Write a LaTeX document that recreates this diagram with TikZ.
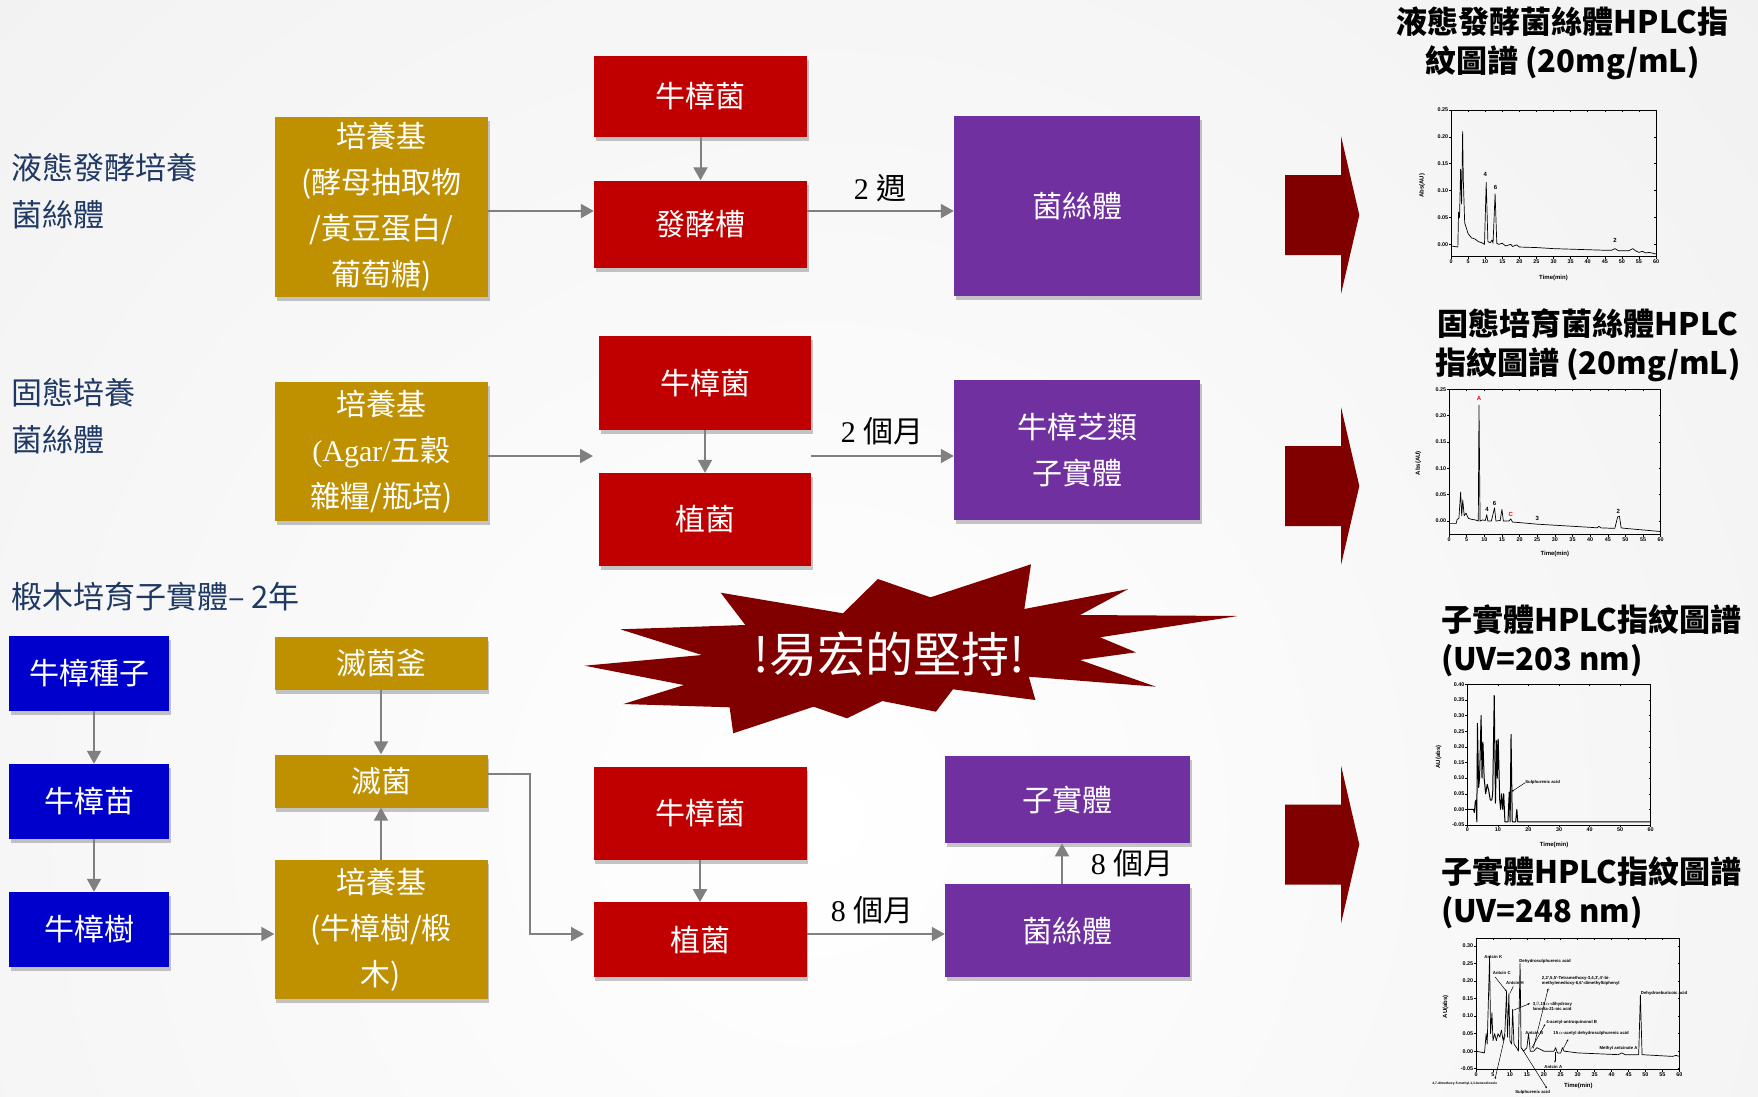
\documentclass[tikz,border=0pt]{standalone}
\usepackage{fontspec}
\setmainfont{Liberation Serif}
\newfontfamily\cjk{Noto Sans CJK TC}
\newfontfamily\arl{Liberation Sans}
\usetikzlibrary{arrows.meta,shadows,calc}
\definecolor{goldc}{HTML}{BF9000}
\definecolor{redc}{HTML}{C00000}
\definecolor{purc}{HTML}{7030A0}
\definecolor{bluec}{HTML}{0000CC}
\definecolor{navyc}{HTML}{1F3864}
\definecolor{burstc}{HTML}{800000}
\definecolor{arrc}{HTML}{808080}
\tikzset{
  box/.style={draw=none, inner sep=0pt, text=white, align=center,
    font={\cjk\fontsize{30}{46}\selectfont},
    drop shadow={shadow xshift=1.5pt, shadow yshift=-4pt, fill=black!50, opacity=0.45}},
  goldbox/.style={box, fill=goldc},
  redbox/.style={box, fill=redc},
  purbox/.style={box, fill=purc},
  bluebox/.style={box, fill=bluec},
  sz/.style 2 args={minimum width=#1pt, minimum height=#2pt},
  arr/.style={draw=arrc, line width=2pt, -{Triangle[length=13pt,width=14pt]}},
  lab/.style={font={\fontsize{30}{36}\selectfont}, inner sep=0pt, text=black},
  lbl/.style={font={\cjk\fontsize{31}{47}\selectfont}, inner sep=0pt, text=navyc, align=left, anchor=west},
  ttl/.style={font={\cjk\bfseries\fontsize{31}{39}\selectfont}, inner sep=0pt, text=black},
  frm/.style={line width=0.5pt, black},
  crv/.style={line width=0.7pt, black, line join=round},
  tk/.style={font={\arl\bfseries\fontsize{5.4}{6}\selectfont}, inner sep=0pt},
  axl/.style={font={\arl\bfseries\fontsize{6}{7}\selectfont}, inner sep=0pt},
  pk/.style={font={\arl\bfseries\fontsize{6}{7}\selectfont}, inner sep=0pt},
  cl/.style={font={\arl\bfseries\fontsize{4.3}{4.8}\selectfont}, inner sep=0pt, align=left},
  ann/.style={line width=0.5pt, black, -{Stealth[length=2.2pt,width=1.8pt]}},
}
\newcommand\mkaxes[4]{%
  \draw[frm] (0,#1) rectangle (60,#2);
  \foreach \v/\yl in {#3} {\draw[frm] (0,\v) -- ++(-2.2pt,0pt); \draw[frm] (60,\v) -- ++(-1.8pt,0pt);
    \node[tk,anchor=east,xshift=-2.8pt] at (0,\v) {\yl};}
  \foreach \t in {#4} {\draw[frm] (\t,#1) -- ++(0pt,-2.2pt); \draw[frm] (\t,#2) -- ++(0pt,-1.8pt);
    \node[tk,anchor=north,yshift=-2.8pt] at (\t,#1) {\t};}
}
\begin{document}
\begin{tikzpicture}[x=1pt,y=-1pt]
\useasboundingbox (0,0) rectangle (1758,1096);
\fill[gray!13] (0,0) rectangle (1758,1096);
\begin{scope}
\clip (0,0) rectangle (1758,1096);
\shade[inner color=white,outer color=gray!13] (820,820) circle (1500);
\end{scope}

% ---------- left labels ----------
\node[lbl] (L1) at (11,191.5) {液態發酵培養\\菌絲體};
\node[lbl] (L2) at (11,416.5) {固態培養\\菌絲體};
\node[lbl] (L3) at (11,597) {椴木培育子實體– 2年};

% ---------- row 1 ----------
\node[goldbox, sz={213}{180}] (p1) at (381.5,207) {培養基\\(酵母抽取物\\/黃豆蛋白/\\葡萄糖)};
\node[redbox, sz={213}{81}] (b1) at (700.5,96) {牛樟菌};
\node[redbox, sz={213}{87}] (f1) at (700.5,224) {發酵槽};
\node[purbox, sz={246}{180}] (m1) at (1077,206) {菌絲體};
\coordinate (r1) at (0,211);
\draw[arr] (b1) -- (f1);
\draw[arr] (p1.east |- r1) -- (f1.west |- r1);
\draw[arr] (f1.east |- r1) -- (m1.west |- r1);
\node[lab] (w1) at (880,188) {2 {\cjk 週}};

% ---------- row 2 ----------
\node[goldbox, sz={213}{139}] (p2) at (381.5,451.5) {培養基\\{\rmfamily (Agar/}五穀\\雜糧/瓶培)};
\node[redbox, sz={212}{94.5}] (b2) at (705,382.75) {牛樟菌};
\node[redbox, sz={212}{93}] (z2) at (705,519.5) {植菌};
\node[purbox, sz={246}{140}] (s2) at (1077,450) {牛樟芝類\\子實體};
\coordinate (r2) at (0,456);
\coordinate (e2) at (593,456);
\draw[arr] (b2) -- (z2);
\draw[arr] (p2.east |- r2) -- (e2);
\draw[arr] (b2.east |- r2) -- (s2.west |- r2);
\node[lab] (w2) at (882,431) {2 {\cjk 個月}};

% ---------- row 3 ----------
\node[bluebox, sz={160}{75}] (n1) at (89,673.5) {牛樟種子};
\node[bluebox, sz={160}{75}] (n2) at (89,801.5) {牛樟苗};
\node[bluebox, sz={160}{75}] (n3) at (89,929.5) {牛樟樹};
\node[goldbox, sz={213}{53}] (g1) at (381,663.5) {滅菌釜};
\node[goldbox, sz={213}{53}] (g2) at (381,781) {滅菌};
\node[goldbox, sz={213}{139}] (g3) at (381,929.5) {培養基\\(牛樟樹/椴\\木)};
\node[redbox, sz={213}{93}] (b3) at (700,813.3) {牛樟菌};
\node[redbox, sz={213}{75}] (z3) at (700,939.8) {植菌};
\node[purbox, sz={245}{93}] (m3) at (1067.5,930.7) {菌絲體};
\node[purbox, sz={245}{87}] (k3) at (1067.5,799.7) {子實體};
\coordinate (cx) at (94,0);
\coordinate (r3) at (0,934);
\coordinate (r3a) at (0,774);
\coordinate (ex) at (530,0);
\coordinate (e3) at (584,934);
\coordinate (ky) at (1062,0);
\draw[arr] (n1.south -| cx) -- (n2.north -| cx);
\draw[arr] (n2.south -| cx) -- (n3.north -| cx);
\draw[arr] (n3.east |- r3) -- (g3.west |- r3);
\draw[arr] (g1) -- (g2);
\draw[arr] (g3) -- (g2);
\draw[arr] (g2.east |- r3a) -- (ex |- r3a) -- (ex |- r3) -- (e3);
\draw[arr] (b3) -- (z3);
\draw[arr] (z3.east |- r3) -- (m3.west |- r3);
\draw[arr] (m3.north -| ky) -- (k3.south -| ky);
\node[lab] (w3) at (872,910) {8 {\cjk 個月}};
\node[lab] (w4) at (1132,863.5) {8 {\cjk 個月}};

% ---------- starburst ----------
\fill[burstc] (720.7,592.7) -- (745.3,625) -- (620.3,629.3) -- (702,655) -- (584.6,665.7)
  -- (684,685) -- (623.4,704) -- (729.6,707.3) -- (733.2,733.3) -- (813.6,706.7)
  -- (847,718.3) -- (882.3,701) -- (935.9,711.7) -- (952.9,689.3) -- (1035.4,700)
  -- (1028.8,676.7) -- (1156,686.7) -- (1080,660) -- (1135.9,652.3) -- (1100,637.3)
  -- (1237.7,616) -- (1080,615) -- (1128.3,589) -- (1024.3,609) -- (1031,564.3)
  -- (930.5,597.3) -- (877.9,579) -- (843,613.3) -- cycle;
\node[font={\cjk\fontsize{48}{50}\selectfont}, text=white, inner sep=0pt] (slogan) at (889,654) {!易宏的堅持!};

% ---------- big arrows ----------
\foreach \c in {215,486,844.5} {
  \fill[burstc] (1285,\c-40) -- (1341,\c-40) -- (1341,\c-79) -- (1359.3,\c) -- (1341,\c+79)
    -- (1341,\c+40) -- (1285,\c+40) -- cycle;
}

% ---------- titles ----------
\node[ttl, align=center] (t1) at (1562.5,43) {液態發酵菌絲體HPLC指\\紋圖譜 (20mg/mL)};
\node[ttl, align=center] (t2) at (1588,345.5) {固態培育菌絲體HPLC\\指紋圖譜 (20mg/mL)};
\node[ttl, align=left, anchor=west] (t3) at (1441,641) {子實體HPLC指紋圖譜\\(UV=203 nm)};
\node[ttl, align=left, anchor=west] (t4) at (1441,892.5) {子實體HPLC指紋圖譜\\(UV=248 nm)};

% ---------- chart 1 ----------
\begin{scope}[shift={(1451,244.33)},x=3.4167pt,y=537.3pt]
\mkaxes{-0.023}{0.25}{0/0.00,0.05/0.05,0.1/0.10,0.15/0.15,0.2/0.20,0.25/0.25}{0,5,...,60}
\draw[crv] plot coordinates {(0,-0.003) (1,-0.004) (2,-0.005) (2.2,0.06) (2.5,0.05) (2.8,0.14) (3.1,0.075) (3.4,0.21) (3.6,0.12) (4,0.04) (5,0.02) (6,0.012) (7,0.01) (8,0.005) (9,0.003) (9.8,0.0) (10.3,0.115) (10.8,0.005) (11.5,0.003) (12,0.008) (12.3,0.002) (12.9,0.094) (13.4,0.002) (14,0.0) (15,0.002) (16,-0.003) (17.5,0.0) (18,-0.004) (19.2,-0.001) (20,-0.005) (25,-0.006) (30,-0.008) (35,-0.009) (40,-0.01) (45,-0.011) (47,-0.011) (48,-0.008) (49,-0.012) (52,-0.012) (53.2,-0.008) (54,-0.012) (55,-0.015) (56,-0.013) (57,-0.016) (58,-0.015) (60,-0.018)};
\node[pk] at (10,0.13) {4};
\node[pk] at (13,0.105) {6};
\node[pk] at (48,0.008) {2};
\node[axl,rotate=90] at (-8.5,0.109) {Abs(AU)};
\node[axl] at (30,-0.062) {Time(min)};
\end{scope}

% ---------- chart 2 ----------
\begin{scope}[shift={(1449,521)},x=3.528pt,y=526.7pt]
\mkaxes{-0.0253}{0.25}{0/0.00,0.05/0.05,0.1/0.10,0.15/0.15,0.2/0.20,0.25/0.25}{0,5,...,60}
\draw[crv] plot coordinates {(0,-0.005) (2,-0.005) (2.3,0.003) (2.8,0.005) (3.3,0.055) (3.6,0.01) (3.9,0.04) (4.3,0.01) (4.8,0.015) (5.5,0.005) (6.5,0.003) (7.5,0.002) (8.3,0.0) (8.5,0.22) (8.8,0.0) (9.5,0.002) (10.3,0.001) (10.7,0.012) (11,0.0) (12,0.0) (12.9,0.025) (13.3,0.0) (14.5,0.001) (15,0.022) (15.4,0.0) (17,0.0) (17.5,0.004) (18,-0.002) (20,-0.003) (25,-0.006) (30,-0.008) (35,-0.01) (40,-0.012) (42,-0.013) (42.5,-0.01) (43,-0.013) (47,-0.014) (47.8,0.008) (48.3,0.009) (48.8,-0.013) (50,-0.014) (55,-0.017) (60,-0.02)};
\node[pk,text=red] at (8.5,0.232) {A};
\node[pk] at (10.8,0.022) {4};
\node[pk] at (12.9,0.034) {6};
\node[pk,text=red] at (17.5,0.012) {C};
\node[pk] at (25,0.004) {3};
\node[pk] at (48,0.018) {2};
\node[axl,rotate=90] at (-8.7,0.11) {Abs(AU)};
\node[axl] at (30,-0.062) {Time(min)};
\end{scope}

% ---------- chart 3 ----------
\begin{scope}[shift={(1467.33,809.37)},x=3.0556pt,y=312.6pt]
\mkaxes{-0.05}{0.40}{-0.05/-0.05,0/0.00,0.05/0.05,0.1/0.10,0.15/0.15,0.2/0.20,0.25/0.25,0.3/0.30,0.35/0.35,0.4/0.40}{0,10,...,60}
\draw[crv,line width=1pt] plot coordinates {(0,0) (2,0) (2.3,-0.01) (2.6,0.025) (2.9,0.03) (3.1,-0.04) (3.3,0.275) (3.7,0.07) (4,0.1) (4.5,0.3) (4.8,0.1) (5.1,0.215) (5.5,0.1) (6,0.05) (6.5,0.08) (7,0.06) (7.5,0.03) (8,0.03) (8.3,0.05) (8.8,0.365) (9.2,0.02) (9.6,0.22) (9.8,0.1) (10.1,0.225) (10.6,0.03) (10.9,0.0) (11.2,0.05) (11.6,0.0) (11.9,0.05) (12.3,-0.04) (13.3,-0.04) (13.7,0.055) (14,-0.04) (14.3,0.24) (14.7,-0.04) (15.8,-0.04) (16.2,0.0) (16.5,-0.04) (60,-0.04)};
\node[cl,anchor=west] (sa3) at (18.9,0.085) {Sulphurenic acid};
\draw[ann] (sa3.west) -- (14.5,0.057);
\node[axl,rotate=90] at (-9.4,0.168) {AU(abs)};
\node[axl] at (28.4,-0.114) {Time(min)};
\end{scope}

% ---------- chart 4 ----------
\begin{scope}[shift={(1476,1051.14)},x=3.389pt,y=350.5pt]
\mkaxes{-0.052}{0.3214}{-0.05/-0.05,0/0.00,0.05/0.05,0.1/0.10,0.15/0.15,0.2/0.20,0.25/0.25,0.3/0.30}{0,5,...,60}
\draw[crv] plot coordinates {(0,0) (2.5,-0.005) (3,0.05) (3.3,0.02) (4,0.27) (4.3,0.05) (4.7,0.11) (5,0.03) (5.5,0.05) (6,0.03) (6.5,0.05) (7,0.04) (7.5,0.06) (8,0.03) (8.5,0.05) (9,0.17) (9.3,0.04) (9.7,0.165) (10,0.03) (10.5,0.02) (10.8,0.12) (11.2,0.02) (12,0.01) (12.5,0.0) (13,0.25) (13.3,0.01) (14,0.0) (15,0.01) (15.5,0.05) (16,0.0) (17,0.0) (18,0.01) (20,0.0) (23,0.0) (23.5,0.01) (24,-0.005) (25,-0.005) (25.5,0.01) (26,0.0) (30,-0.005) (42,-0.01) (43,-0.005) (44,-0.01) (48,-0.01) (48.5,0.16) (49,-0.01) (58,-0.015) (59,-0.012) (60,-0.015)};
\node[cl] at (5.1,0.268) {Antcin K};
\node[cl] at (7.6,0.224) {Antcin C};
\draw[ann] (5.6,0.212) -- (9.05,0.17);
\node[cl] at (11.5,0.194) {Antcin H};
\draw[line width=0.5pt] (11,0.185) -- (10,0.165);
\node[cl,anchor=west] at (12.7,0.257) {Dehydrosulphurenic acid};
\node[cl,anchor=west] at (19.4,0.201) {2,2',5,5'-Tetramethoxy-3,4,3',4'-bi-\\methylenedioxy-6,6'-dimethylbiphenyl};
\draw[ann] (16.9,0.008) -- (21.3,0.179);
\node[cl,anchor=west] at (16.7,0.128) {3$\beta$,15$\alpha$-dihydroxy\\lanosta-21-oic acid};
\draw[ann] (11.1,0.117) -- (15.9,0.136);
\node[cl,anchor=west] at (20.7,0.082) {4-acetyl-antroquinonol B};
\draw[ann] (16.4,0.008) -- (20.4,0.077);
\node[cl] at (17.2,0.051) {Antcin B};
\node[cl,anchor=west] at (22.8,0.051) {15$\alpha$-acetyl dehydrosulphurenic acid};
\draw[ann] (25.8,0.008) -- (27.2,0.034);
\node[cl,anchor=west] at (36.4,0.007) {Methyl antcinate A};
\node[cl,anchor=west] at (48.6,0.166) {Dehydroeburicoic acid};
\node[cl] at (22.8,-0.044) {Antcin A};
\draw[ann] (23.3,-0.002) -- (23.3,-0.033);
\node[cl,font={\arl\bfseries\fontsize{3.3}{4}\selectfont}] at (-3.3,-0.092) {4,7-dimethoxy-5-methyl-1,3-benzodioxole};
\draw[ann] (8.6,0.046) -- (5.6,-0.08);
\node[cl] at (16.7,-0.117) {Sulphurenic acid};
\draw[ann] (13.5,0.008) -- (20.9,-0.106);
\node[axl] at (30.2,-0.0995) {Time(min)};
\node[axl,rotate=90] at (-9,0.127) {AU(abs)};
\end{scope}
\end{tikzpicture}
\end{document}
